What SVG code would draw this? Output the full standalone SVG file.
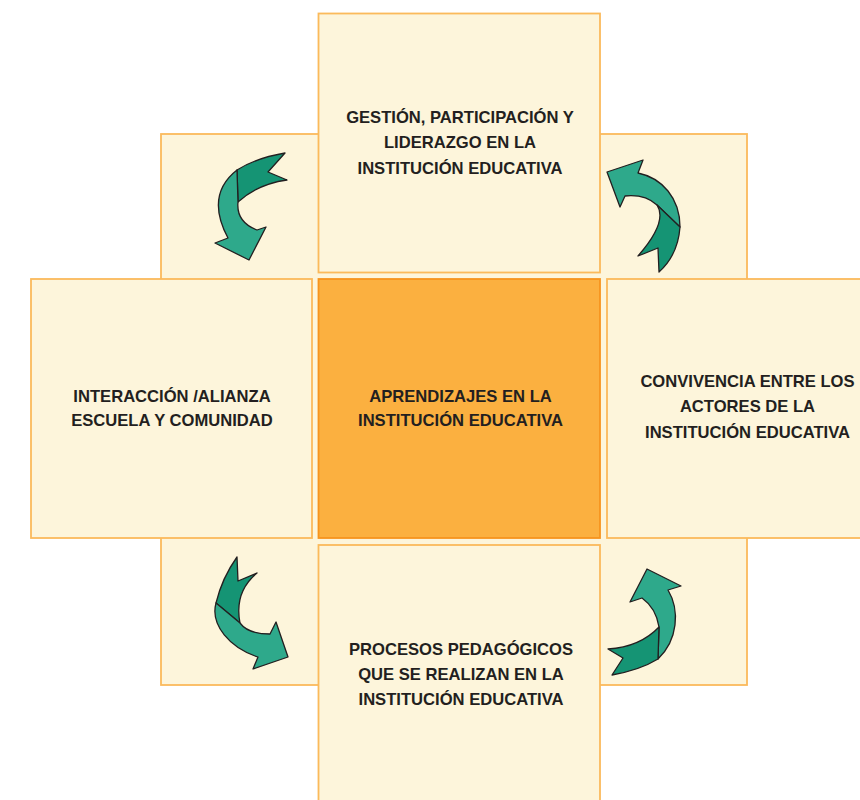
<svg xmlns="http://www.w3.org/2000/svg" width="860" height="800" viewBox="0 0 860 800">
<style>
.box{fill:#FDF5DB;stroke:#FBBA5B;stroke-width:1.8}
.center{fill:#FBB040;stroke:#F7941D;stroke-width:1.8}
.lbl{font-family:"Liberation Sans",Arial,sans-serif;font-weight:bold;font-size:16.6px;fill:#231F20;text-anchor:middle}
.lt{fill:#2EA98B;stroke:#231F20;stroke-width:1.3;stroke-linejoin:round}
.dk{fill:#159474;stroke:#231F20;stroke-width:1.3;stroke-linejoin:round}
</style>
<rect width="860" height="800" fill="#FFFFFF"/>
<g id="back"><rect class="box" x="161" y="134" width="586" height="551"/></g>
<g id="top"><rect class="box" x="318.5" y="13.5" width="281.5" height="259"/>
<text class="lbl" x="460" y="123">GESTIÓN, PARTICIPACIÓN Y</text>
<text class="lbl" x="460" y="148">LIDERAZGO EN LA</text>
<text class="lbl" x="460" y="173.5">INSTITUCIÓN EDUCATIVA</text></g>
<g id="left"><rect class="box" x="31" y="279" width="281" height="259"/>
<text class="lbl" x="172" y="401.5">INTERACCIÓN /ALIANZA</text>
<text class="lbl" x="172" y="426">ESCUELA Y COMUNIDAD</text></g>
<g id="center"><rect class="center" x="318.5" y="279" width="281.5" height="259"/>
<text class="lbl" x="460.5" y="401.5">APRENDIZAJES EN LA</text>
<text class="lbl" x="460.5" y="426">INSTITUCIÓN EDUCATIVA</text></g>
<g id="right"><rect class="box" x="607" y="279" width="290" height="259"/>
<text class="lbl" x="747.5" y="387">CONVIVENCIA ENTRE LOS</text>
<text class="lbl" x="747.5" y="412">ACTORES DE LA</text>
<text class="lbl" x="747.5" y="437.5">INSTITUCIÓN EDUCATIVA</text></g>
<g id="bottom"><rect class="box" x="318.5" y="545" width="281.5" height="270"/>
<text class="lbl" x="461" y="655">PROCESOS PEDAGÓGICOS</text>
<text class="lbl" x="461" y="680">QUE SE REALIZAN EN LA</text>
<text class="lbl" x="461" y="705">INSTITUCIÓN EDUCATIVA</text></g>
<g id="connectors">
<g id="arrow-tl">
<path class="dk" d="M285,153 Q256,158 237,170 L238,202 Q258,184 287,180 L268,172 Z"/>
<path class="lt" d="M237,170 Q205,195 228,238 L215,243 L249,260 L266,227 L257,230 Q236,222 238,202 Z"/>
</g>
<g id="arrow-tr">
<path class="lt" d="M607,172 L643,160 L638,173 C662,178 680,198 680,227 L657,205 Q645,194 625,196 L620,207 Z"/>
<path class="dk" d="M680,227 Q678,255 659,272 L658,248 L638,256 Q668,222 657,205 Z"/>
</g>
<g id="arrow-bl">
<path class="dk" d="M237,557 Q222,578 216,603 L240,623 Q234,592 257,573 L238,581 Z"/>
<path class="lt" d="M216,603 C210,625 230,648 258,657 L253,669 L288,657 L276,622 L270,634 Q248,634 240,623 Z"/>
</g>
<g id="arrow-br">
<path class="lt" d="M647,569 L681,586 L668,590 C680,610 678,640 658,659 L659,627 Q656,608 642,598 L630,602 Z"/>
<path class="dk" d="M659,627 Q640,647 608,649 L623,658 L612,675 Q640,670 658,659 Z"/>
</g>
</g>
</svg>
